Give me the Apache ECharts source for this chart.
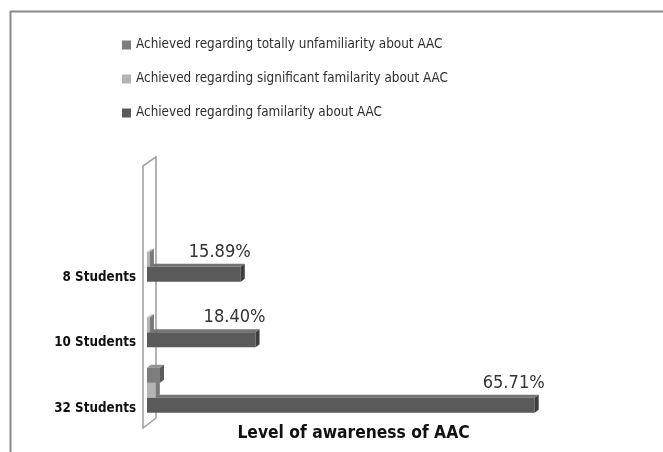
<!DOCTYPE html>
<html><head><meta charset="utf-8">
<script src="https://cdn.jsdelivr.net/npm/echarts@6/dist/echarts.min.js"></script>
<style>html,body{margin:0;padding:0;background:#fff}#c{width:663px;height:452px}</style>
</head><body><div id="c"></div>
<script>
// ---- data ----
const categories = ['32 Students', '10 Students', '8 Students'];
const seriesNames = [
  'Achieved regarding totally unfamiliarity about AAC',
  'Achieved regarding significant familarity about AAC',
  'Achieved regarding familarity about AAC'
];
const unfamiliarity = [2.2, 0, 0];
const significant = [1.5, 0.5, 0.5];
const familiarity = [65.71, 18.40, 15.89];
const familiarityLabels = ['65.71%', '18.40%', '15.89%'];
const axisTitle = 'Level of awareness of AAC';

// ---- styling ----
const FONT = '"Liberation Sans Narrow", "DejaVu Sans Condensed", Roboto, sans-serif';
function fitSize(text, weight, targetW) {
  const ctx = document.createElement('canvas').getContext('2d');
  ctx.font = weight + ' 100px ' + FONT;
  return Math.round(100 * targetW / ctx.measureText(text).width * 10) / 10;
}
const legendSize = fitSize(seriesNames[0], 'normal', 307);
const catSize = fitSize('32 Students', 'bold', 82);
const valSize = fitSize('15.89%', 'normal', 62);
const titleSize = fitSize(axisTitle, 'bold', 233);

const shades = [
  {front: '#5a5a5a', top: '#747474', side: '#3e3e3e'}, // familiarity
  {front: '#b4b4b4', top: '#c9c9c9', side: '#7a7a7a'}, // significant
  {front: '#7d7d7d', top: '#939393', side: '#5a5a5a'}  // unfamiliarity
];

function barRender(slot, shade, labels) {
  return function (params, api) {
    const v = api.value(0), ci = api.value(1);
    if (!(v > 0)) return null;
    const p0 = api.coord([0, ci]), p1 = api.coord([v, ci]);
    const band = api.size([0, 1])[1];
    const h = band * 0.229;
    const yc = p0[1] + h - slot * h;
    const y0 = yc - h / 2, y1 = yc + h / 2;
    const x0 = p0[0], x1 = p1[0];
    const dx = 4, dy = 3;
    const children = [
      {type: 'polygon', shape: {points: [[x0, y0], [x1, y0], [x1 + dx, y0 - dy], [x0 + dx, y0 - dy]]}, style: {fill: shade.top}},
      {type: 'rect', shape: {x: x0, y: y0, width: x1 - x0, height: h}, style: {fill: shade.front}},
      {type: 'polygon', shape: {points: [[x1, y0], [x1 + dx, y0 - dy], [x1 + dx, y1 - dy], [x1, y1]]}, style: {fill: shade.side}}
    ];
    if (labels) {
      children.push({type: 'text', x: x1 - 21, y: yc - 22,
        style: {text: labels[params.dataIndex], fill: '#333', font: 'normal ' + valSize + 'px ' + FONT,
          textAlign: 'center', textVerticalAlign: 'middle'}});
    }
    return {type: 'group', children: children};
  };
}

function wallRender(params, api) {
  const b = api.coord([0, 0]);
  const band = api.size([0, 1])[1];
  const x0 = b[0];
  const bottom = b[1] + band / 2;
  const top = bottom - band * 4;
  return {type: 'polygon', shape: {points: [[x0 - 4, bottom + 5], [x0 - 4, top + 5], [x0 + 9, top - 4], [x0 + 9, bottom - 5]]},
    style: {fill: '#fff', stroke: '#9a9a9a', lineWidth: 1.5}};
}

const chart = echarts.init(document.getElementById('c'));
chart.setOption({
  animation: false,
  backgroundColor: '#fff',
  graphic: [{type: 'rect', left: 8, top: 9, shape: {width: 720, height: 520},
    style: {fill: 'none', stroke: '#8a8a8a', lineWidth: 2}, silent: true}],
  legend: {
    orient: 'vertical', left: 122, top: 36, padding: 0, itemWidth: 9, itemHeight: 9, itemGap: 16, icon: 'rect',
    data: seriesNames,
    textStyle: {fontFamily: FONT, fontSize: legendSize, lineHeight: 18, color: '#2e2e2e'}
  },
  grid: {left: 147, width: 413, top: 226.5, bottom: 29, containLabel: false},
  xAxis: {
    type: 'value', min: 0, max: 70,
    axisLine: {show: false}, axisTick: {show: false}, axisLabel: {show: false}, splitLine: {show: false},
    name: axisTitle, nameLocation: 'middle', nameGap: 2,
    nameTextStyle: {fontFamily: FONT, fontWeight: 'bold', fontSize: titleSize, color: '#111', verticalAlign: 'top'}
  },
  yAxis: {
    type: 'category', data: categories,
    axisLine: {show: false}, axisTick: {show: false}, splitLine: {show: false},
    axisLabel: {margin: 11, formatter: function (v) { return '{a|' + v + '}'; },
      rich: {a: {fontFamily: FONT, fontWeight: 'bold', fontSize: catSize, color: '#111', padding: [36, 0, 0, 0]}}}
  },
  series: [
    {type: 'custom', name: 'wall', data: [[0, 0]], encode: {x: 0, y: 1}, renderItem: wallRender, clip: false, silent: true, z: 1},
    {type: 'custom', name: seriesNames[2], itemStyle: {color: shades[0].front}, encode: {x: 0, y: 1}, clip: false, z: 2,
      data: familiarity.map((v, i) => [v, i]), renderItem: barRender(0, shades[0], familiarityLabels)},
    {type: 'custom', name: seriesNames[1], itemStyle: {color: shades[1].front}, encode: {x: 0, y: 1}, clip: false, z: 2,
      data: significant.map((v, i) => [v, i]), renderItem: barRender(1, shades[1], null)},
    {type: 'custom', name: seriesNames[0], itemStyle: {color: shades[2].front}, encode: {x: 0, y: 1}, clip: false, z: 2,
      data: unfamiliarity.map((v, i) => [v, i]), renderItem: barRender(2, shades[2], null)}
  ]
});
</script>
</body></html>
